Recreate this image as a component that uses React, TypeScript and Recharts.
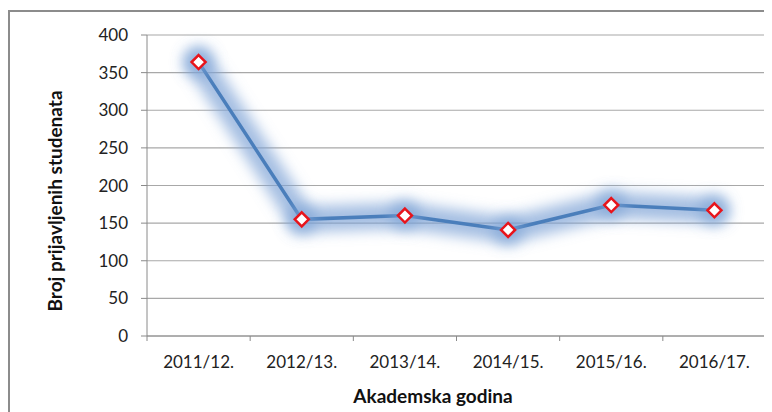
import { CartesianGrid, Line, LineChart, XAxis, YAxis } from "recharts";

const years = ["2011/12.", "2012/13.", "2013/14.", "2014/15.", "2015/16.", "2016/17."];
const students = [364, 155, 160, 141, 174, 167];
const yTicks = [0, 50, 100, 150, 200, 250, 300, 350, 400];

const data = years.map((year, i) => ({ year, students: students[i] }));

const W = 764;
const H = 404;
const xAxisHeight = 30;
const margin = { top: 27, right: 6, bottom: 76 - xAxisHeight, left: 0 };
const yAxisWidth = 139;
const band = (W - margin.left - margin.right - yAxisWidth) / years.length;
const font = "Lato, 'Open Sans', sans-serif";

const Diamond = (props: any) => {
	const { cx, cy } = props;
	if (cx == null || cy == null) return null;
	const r = 7;
	return (
		<path
			d={`M${cx},${cy - r} L${cx + r},${cy} L${cx},${cy + r} L${cx - r},${cy} Z`}
			fill="#fff"
			stroke="#e8141b"
			strokeWidth={2.5}
		/>
	);
};

const GlowDot = (props: any) => {
	const { cx, cy } = props;
	if (cx == null || cy == null) return null;
	return <circle cx={cx} cy={cy} r={15} fill="#7da3d6" fillOpacity={0.65} filter="url(#glow)" />;
};

const XTick = (props: any) => {
	const { x, y, payload, index } = props;
	return (
		<g>
			<line x1={x - band / 2} x2={x - band / 2} y1={y - 8} y2={y - 3} stroke="#8a8a8a" />
			{index === years.length - 1 && (
				<line x1={x + band / 2} x2={x + band / 2} y1={y - 8} y2={y - 3} stroke="#8a8a8a" />
			)}
			<text x={x} y={y + 24} textAnchor="middle" fontSize={17} fill="#222" fontFamily={font}>
				{payload.value}
			</text>
		</g>
	);
};

export default function App() {
	return (
		<div style={{ position: "relative", width: W, height: H }}>
			<svg width={0} height={0} style={{ position: "absolute" }}>
				<defs>
					<filter id="glow" x="-50%" y="-50%" width="200%" height="200%">
						<feGaussianBlur stdDeviation={7} />
					</filter>
				</defs>
			</svg>
			<div
				style={{
					position: "absolute",
					left: 0,
					top: 2,
					right: -8,
					bottom: -8,
					borderLeft: "2px solid #8c8c8c",
					borderTop: "2px solid #8c8c8c",
				}}
			/>
			<LineChart width={W} height={H} data={data} margin={margin} style={{ position: "absolute", left: 0, top: 0 }}>
				<CartesianGrid vertical={false} stroke="#a8a8a8" strokeWidth={1.2} />
				<XAxis
					dataKey="year"
					interval={0}
					height={xAxisHeight}
					padding={{ left: band / 2, right: band / 2 }}
					stroke="#8a8a8a"
					tickLine={false}
					tick={<XTick />}
					label={{
						content: () => (
							<text x={425} y={395} textAnchor="middle" fontSize={19} fontWeight="bold" fill="#111" fontFamily={font}>
								Akademska godina
							</text>
						),
					}}
				/>
				<YAxis
					width={yAxisWidth}
					domain={[0, 400]}
					ticks={yTicks}
					interval={0}
					stroke="#8a8a8a"
					tickSize={6}
					tickMargin={13}
					tick={{ fontSize: 17, fill: "#222", fontFamily: font }}
					label={{
						content: () => (
							<text
								x={49}
								y={193}
								transform="rotate(-90 49 193)"
								textAnchor="middle"
								dominantBaseline="middle"
								fontSize={19}
								fontWeight="bold"
								fill="#111"
								fontFamily={font}
							>
								Broj prijavljenih studenata
							</text>
						),
					}}
				/>
				<YAxis
					yAxisId="right"
					orientation="right"
					width={0}
					domain={[0, 400]}
					tick={false}
					tickLine={false}
					stroke="#a8a8a8"
				/>
				<Line
					dataKey="students"
					stroke="#7da3d6"
					strokeOpacity={0.7}
					strokeWidth={26}
					strokeLinecap="round"
					strokeLinejoin="round"
					filter="url(#glow)"
					dot={<GlowDot />}
					activeDot={false}
					isAnimationActive={false}
				/>
				<Line
					dataKey="students"
					stroke="#4a7ebb"
					strokeWidth={3.5}
					dot={<Diamond />}
					activeDot={false}
					isAnimationActive={false}
				/>
			</LineChart>
		</div>
	);
}
